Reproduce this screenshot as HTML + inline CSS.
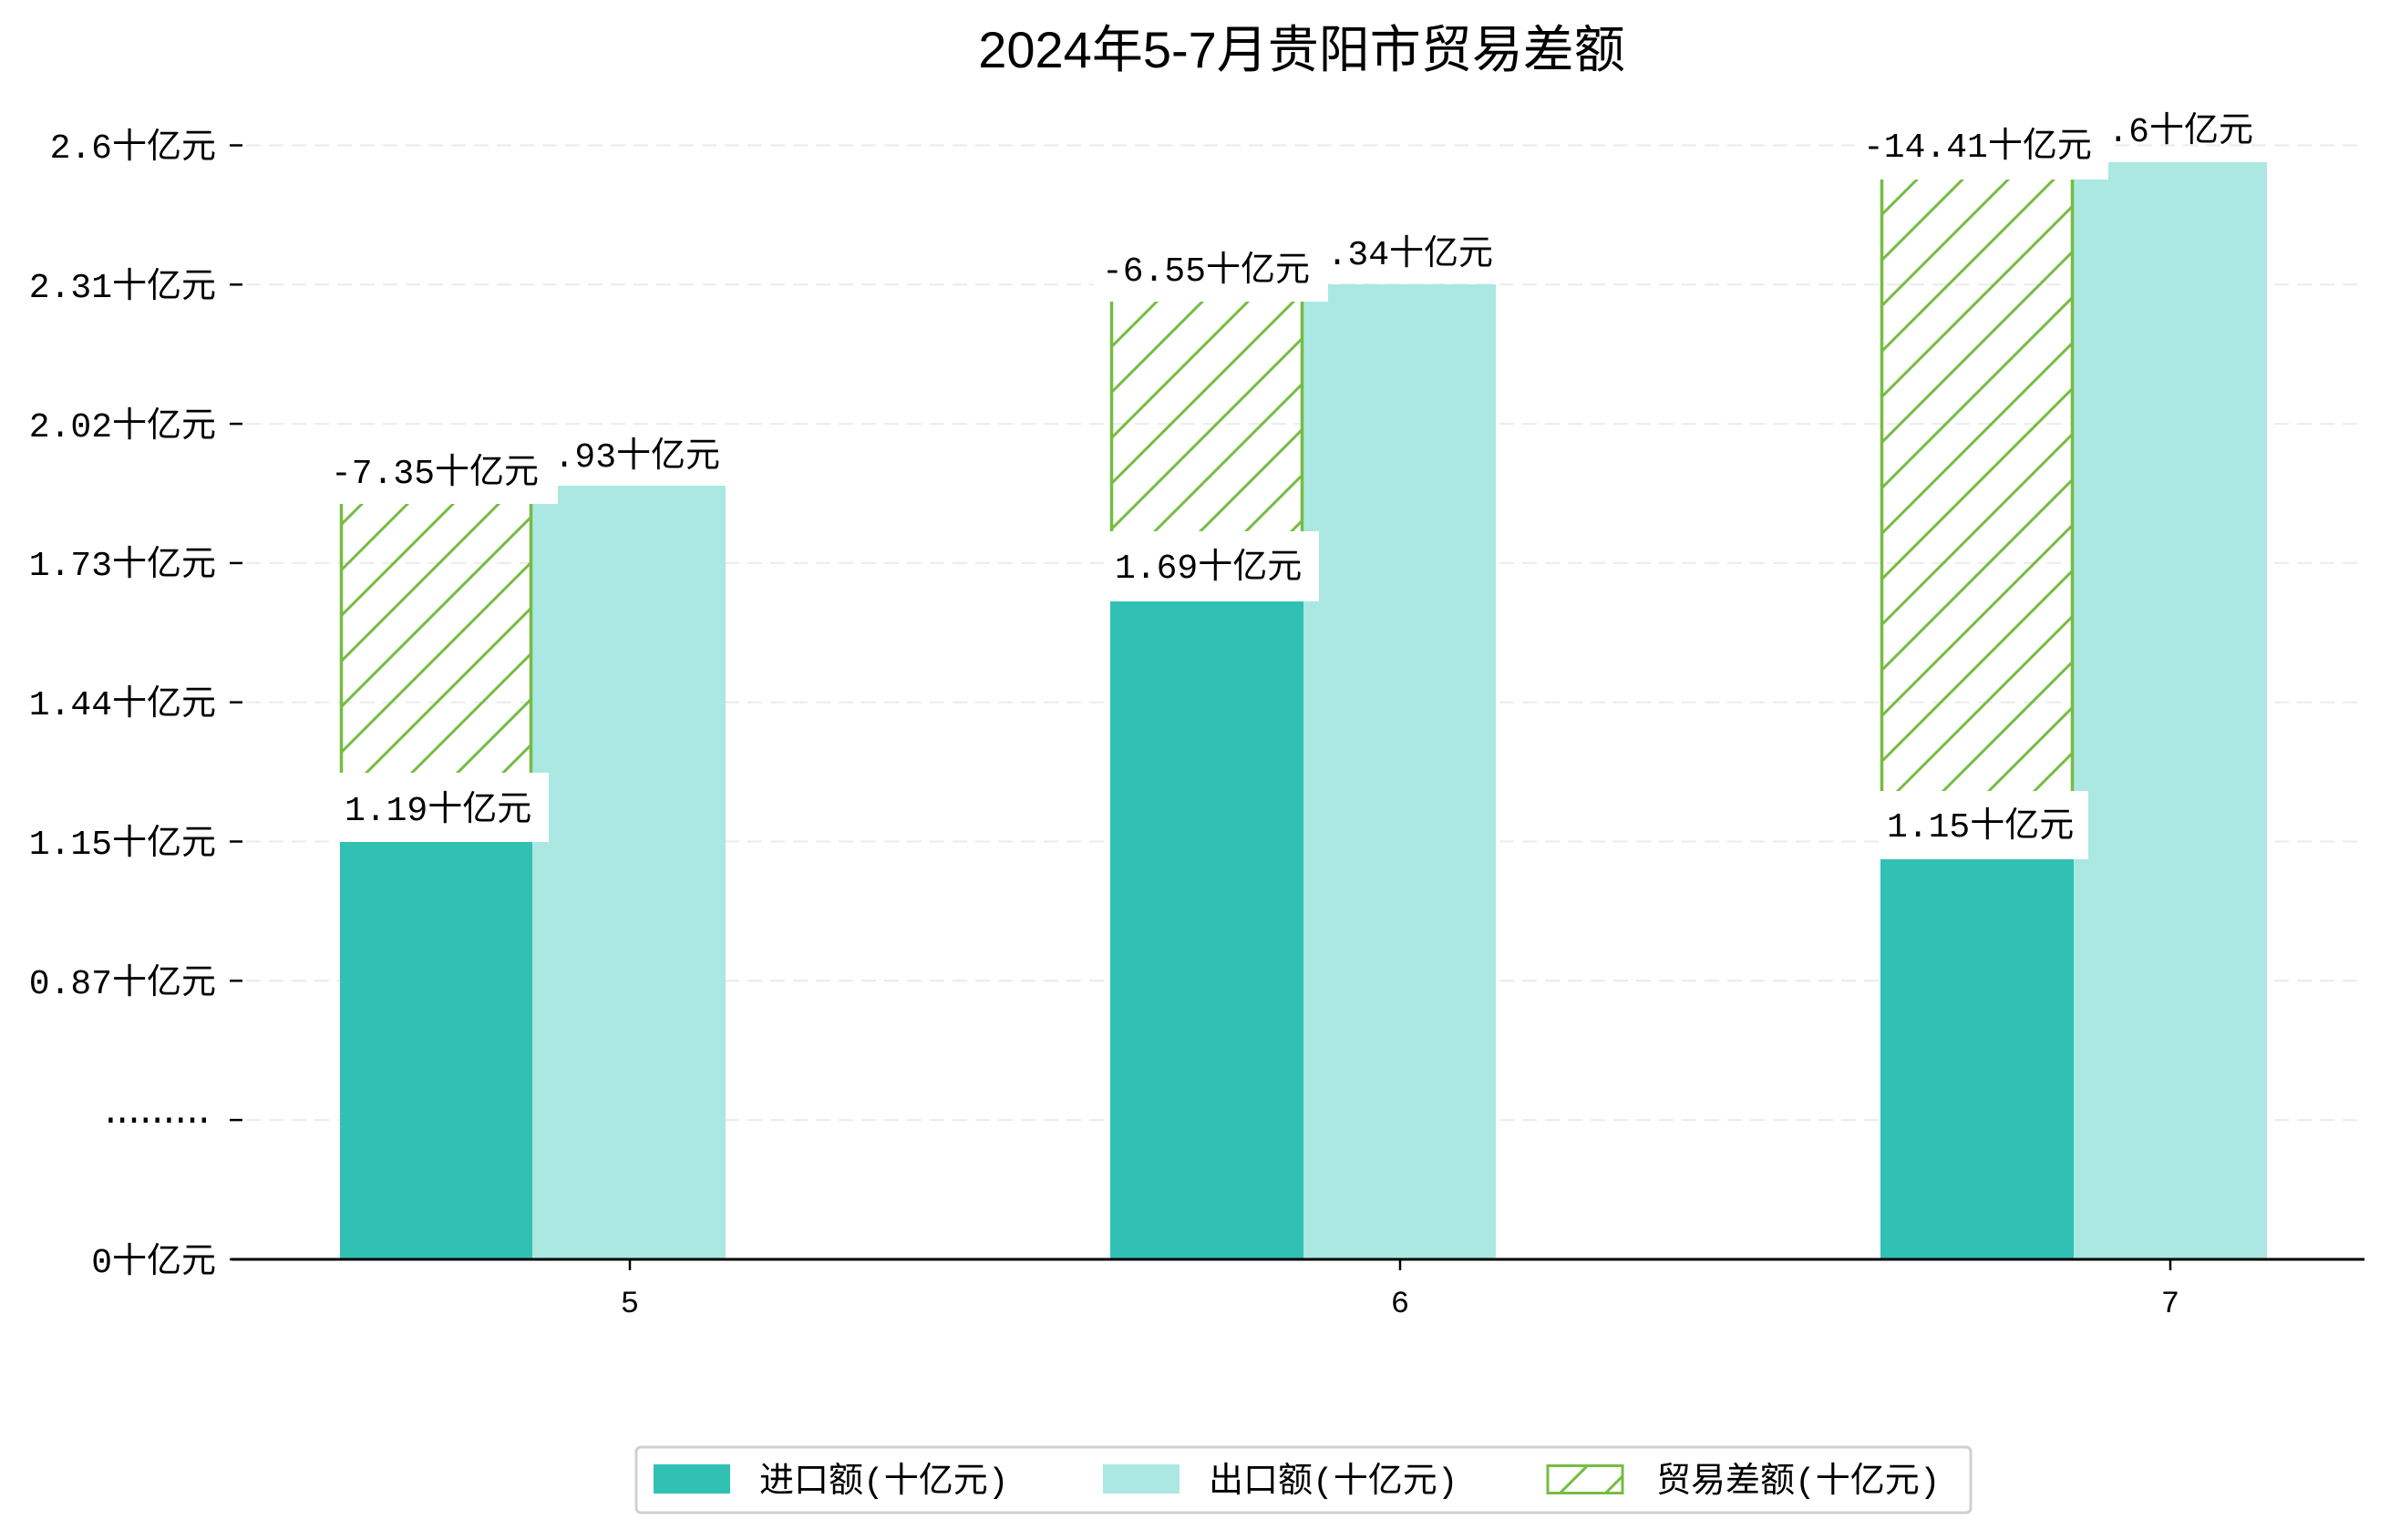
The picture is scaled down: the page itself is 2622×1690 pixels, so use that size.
<!DOCTYPE html>
<html><head><meta charset="utf-8"><style>
html,body{margin:0;padding:0;background:#fff;}
svg{display:block;}
text{font-family:"Liberation Mono","WenQuanYi Zen Hei","Noto Sans CJK SC",monospace;fill:#000;}
text.t{font-family:"Liberation Sans","WenQuanYi Zen Hei","Noto Sans CJK SC",sans-serif;}
</style></head><body>
<svg width="2622" height="1690" viewBox="0 0 2622 1690" xmlns="http://www.w3.org/2000/svg">
<defs>
<pattern id="h" patternUnits="userSpaceOnUse" width="50" height="50">
<path d="M-5,55 L55,-5 M-5,5 L5,-5 M45,55 L55,45" stroke="#76bc43" stroke-width="3" fill="none"/>
</pattern>
</defs>
<rect width="2622" height="1690" fill="#fff"/>
<text class="t" x="1428" y="74" font-size="56" text-anchor="middle">2024年5-7月贵阳市贸易差额</text>
<g stroke="#ebebeb" stroke-width="2" stroke-dasharray="16,9">
<line x1="270" y1="159.5" x2="2594" y2="159.5"/>
<line x1="270" y1="312.3" x2="2594" y2="312.3"/>
<line x1="270" y1="465.1" x2="2594" y2="465.1"/>
<line x1="270" y1="617.9" x2="2594" y2="617.9"/>
<line x1="270" y1="770.7" x2="2594" y2="770.7"/>
<line x1="270" y1="923.5" x2="2594" y2="923.5"/>
<line x1="270" y1="1076.3" x2="2594" y2="1076.3"/>
<line x1="270" y1="1229.1" x2="2594" y2="1229.1"/>
</g>
<g stroke="#000" stroke-width="2.5">
<line x1="252" y1="159.5" x2="266" y2="159.5"/>
<line x1="252" y1="312.3" x2="266" y2="312.3"/>
<line x1="252" y1="465.1" x2="266" y2="465.1"/>
<line x1="252" y1="617.9" x2="266" y2="617.9"/>
<line x1="252" y1="770.7" x2="266" y2="770.7"/>
<line x1="252" y1="923.5" x2="266" y2="923.5"/>
<line x1="252" y1="1076.3" x2="266" y2="1076.3"/>
<line x1="252" y1="1229.1" x2="266" y2="1229.1"/>
<line x1="252" y1="1382" x2="266" y2="1382"/>
</g>
<g font-size="38" text-anchor="end">
<text x="237" y="173">2.6十亿元</text>
<text x="237" y="326">2.31十亿元</text>
<text x="237" y="479">2.02十亿元</text>
<text x="237" y="631">1.73十亿元</text>
<text x="237" y="784">1.44十亿元</text>
<text x="237" y="937">1.15十亿元</text>
<text x="237" y="1090">0.87十亿元</text>
</g>
<text x="110" y="1240" font-size="38" letter-spacing="-10">·········</text>
<text x="237" y="1396" font-size="38" text-anchor="end">0十亿元</text>
<!-- bars -->
<rect x="373" y="924" width="211" height="458" fill="#31c1b4"/>
<rect x="584" y="533" width="212" height="849" fill="#abe8e2"/>
<rect x="373" y="553" width="211" height="295" fill="url(#h)"/>
<rect x="1218" y="660" width="212" height="722" fill="#31c1b4"/>
<rect x="1430" y="312" width="211" height="1070" fill="#abe8e2"/>
<rect x="1218" y="331" width="212" height="252" fill="url(#h)"/>
<rect x="2063" y="943" width="212" height="439" fill="#31c1b4"/>
<rect x="2275" y="178" width="212" height="1204" fill="#abe8e2"/>
<rect x="2063" y="197" width="212" height="671" fill="url(#h)"/>
<g stroke="#76bc43" stroke-width="3.5">
<line x1="374.5" y1="553" x2="374.5" y2="848"/><line x1="582.5" y1="553" x2="582.5" y2="848"/>
<line x1="1219.5" y1="331" x2="1219.5" y2="583"/><line x1="1428.5" y1="331" x2="1428.5" y2="583"/>
<line x1="2064.5" y1="197" x2="2064.5" y2="868"/><line x1="2273.5" y1="197" x2="2273.5" y2="868"/>
</g>
<!-- export labels -->
<g font-size="38" text-anchor="end">
<text x="790" y="512">1.93十亿元</text>
<text x="1638" y="290">2.34十亿元</text>
<text x="2472" y="155">2.6十亿元</text>
</g>
<!-- balance labels -->
<rect x="355" y="477" width="257" height="76" fill="#fff"/>
<rect x="1200" y="255" width="257" height="76" fill="#fff"/>
<rect x="2035" y="121" width="278" height="76" fill="#fff"/>
<g font-size="38">
<text x="363" y="530">-7.35十亿元</text>
<text x="1209" y="308">-6.55十亿元</text>
<text x="2044" y="172">-14.41十亿元</text>
</g>
<!-- import labels -->
<rect x="371" y="848" width="231" height="76" fill="#fff"/>
<rect x="1218" y="583" width="229" height="77" fill="#fff"/>
<rect x="2062" y="868" width="229" height="75" fill="#fff"/>
<g font-size="38">
<text x="378" y="900">1.19十亿元</text>
<text x="1223" y="634">1.69十亿元</text>
<text x="2070" y="918">1.15十亿元</text>
</g>
<!-- x axis -->
<line x1="254" y1="1382" x2="2594" y2="1382" stroke="#000" stroke-width="3"/>
<g stroke="#000" stroke-width="2.5">
<line x1="691" y1="1382" x2="691" y2="1394"/>
<line x1="1536" y1="1382" x2="1536" y2="1394"/>
<line x1="2381" y1="1382" x2="2381" y2="1394"/>
</g>
<g font-size="34" text-anchor="middle">
<text x="691" y="1440">5</text>
<text x="1536" y="1440">6</text>
<text x="2381" y="1440">7</text>
</g>
<!-- legend -->
<rect x="698" y="1588" width="1464" height="72" rx="5" fill="#fff" stroke="#d0d0d0" stroke-width="3"/>
<rect x="717" y="1607" width="84" height="32" fill="#31c1b4"/>
<rect x="1210" y="1607" width="84" height="32" fill="#abe8e2"/>
<rect x="1698" y="1608.5" width="82" height="30" fill="url(#h)" stroke="#76bc43" stroke-width="3"/>
<g font-size="38">
<text x="833" y="1637">进口额(十亿元)</text>
<text x="1326" y="1637">出口额(十亿元)</text>
<text x="1817" y="1637">贸易差额(十亿元)</text>
</g>
</svg>
</body></html>
